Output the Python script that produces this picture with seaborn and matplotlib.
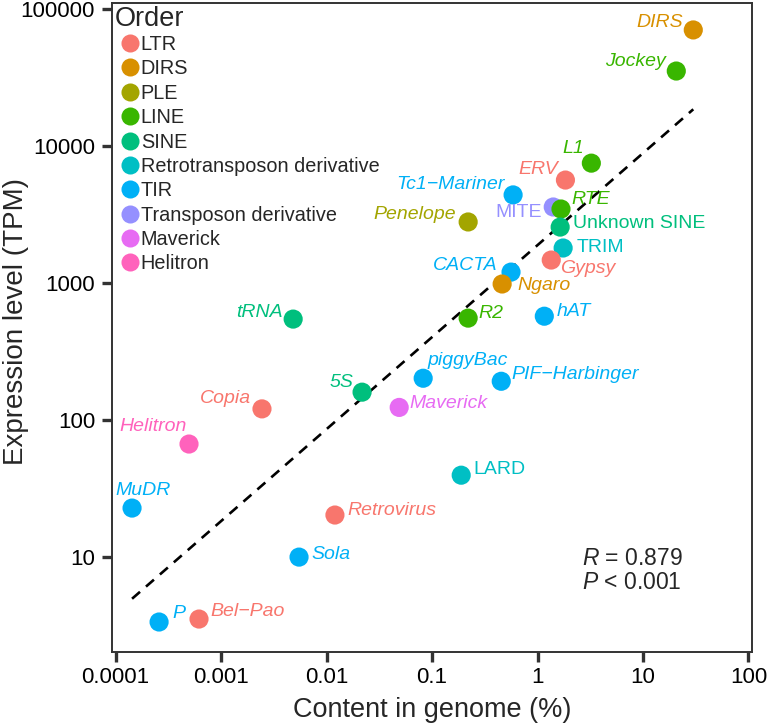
import numpy as np
import pandas as pd
import matplotlib
matplotlib.use("Agg")
import matplotlib.pyplot as plt
import seaborn as sns

# ---------------- data ----------------
names = ["DIRS", "Jockey", "L1", "ERV", "Tc1\u2212Mariner", "MITE", "RTE", "Penelope",
         "Unknown SINE", "TRIM", "Gypsy", "CACTA", "Ngaro", "R2", "hAT", "piggyBac",
         "PIF\u2212Harbinger", "Maverick", "LARD", "tRNA", "5S", "Copia", "Helitron",
         "MuDR", "Retrovirus", "Sola", "P", "Bel\u2212Pao"]
orders = ["DIRS", "LINE", "LINE", "LTR", "TIR", "Transposon derivative", "LINE", "PLE",
          "SINE", "Retrotransposon derivative", "LTR", "TIR", "DIRS", "LINE", "TIR", "TIR",
          "TIR", "Maverick", "Retrotransposon derivative", "SINE", "SINE", "LTR", "Helitron",
          "TIR", "LTR", "TIR", "TIR", "LTR"]
content = [30.0, 20.7, 3.24, 1.84, 0.587, 1.41, 1.67, 0.220,
           1.64, 1.75, 1.35, 0.561, 0.462, 0.220, 1.16, 0.0824,
           0.453, 0.0488, 0.189, 0.00482, 0.0217, 0.00244, 0.000496,
           0.000143, 0.0120, 0.00548, 0.000258, 0.000617]
expression = [70700, 35400, 7510, 5650, 4400, 3590, 3470, 2790,
              2560, 1800, 1470, 1200, 982, 553, 571, 201,
              191, 123, 39.3, 544, 159, 120, 66.4,
              22.6, 20.1, 9.9, 3.32, 3.49]
order_levels = ["LTR", "DIRS", "PLE", "LINE", "SINE", "Retrotransposon derivative",
                "TIR", "Transposon derivative", "Maverick", "Helitron"]
upright_labels = ["MITE", "Unknown SINE", "TRIM", "LARD"]
x_ticks = [0.0001, 0.001, 0.01, 0.1, 1, 10, 100]
x_tick_labels = ["0.0001", "0.001", "0.01", "0.1", "1", "10", "100"]
y_ticks = [10, 100, 1000, 10000, 100000]
y_tick_labels = ["10", "100", "1000", "10000", "100000"]
stat_r = "0.879"
stat_p = "0.001"

# ---------------- style ----------------
palette = ["#F8766D", "#D89000", "#A3A500", "#39B600", "#00BF7D",
           "#00BFC4", "#00B0F6", "#9590FF", "#E76BF3", "#FF62BC"]
# label placement (pixel offsets from point centre, horizontal alignment)
label_pos = {
    "DIRS": (-10, 7, "right"), "Jockey": (-10, 10, "right"), "L1": (-7, 15, "right"),
    "ERV": (-7, 11, "right"), "Tc1\u2212Mariner": (-8, 10, "right"), "MITE": (-11, -6, "right"),
    "RTE": (10, 10, "left"), "Penelope": (-12, 7, "right"), "Unknown SINE": (13, 4, "left"),
    "TRIM": (13, 1, "left"), "Gypsy": (9, -8, "left"), "CACTA": (-13, 7, "right"),
    "Ngaro": (15, -1, "left"), "R2": (10, 5, "left"), "hAT": (12, 5, "left"),
    "piggyBac": (4, 18, "left"), "PIF\u2212Harbinger": (10, 7, "left"),
    "Maverick": (10, 4, "left"), "LARD": (12, 6, "left"), "tRNA": (-10, 7, "right"),
    "5S": (-9, 10, "right"), "Copia": (-11, 10, "right"), "Helitron": (-2, 18, "right"),
    "MuDR": (-17, 18, "left"), "Retrovirus": (12, 5, "left"), "Sola": (12, 3, "left"),
    "P": (13, 9, "left"), "Bel\u2212Pao": (11, 8, "left"),
}

sns.set_theme(style="white")
plt.rcParams["font.family"] = ["Liberation Sans", "DejaVu Sans"]
plt.rcParams["mathtext.fontset"] = "custom"
plt.rcParams["mathtext.rm"] = "Liberation Sans"
plt.rcParams["mathtext.it"] = "Liberation Sans:italic"

df = pd.DataFrame({"name": names, "Order": orders, "content": content, "expression": expression})

fig = plt.figure(figsize=(7.67, 7.23), dpi=100)
ax = fig.add_axes([0.146, 0.0986, 0.835, 0.8968])

sns.scatterplot(data=df, x="content", y="expression", hue="Order", hue_order=order_levels,
                palette=palette, s=190, linewidth=0, ax=ax, legend=True, zorder=3)
ax.set_xscale("log")
ax.set_yscale("log")

# regression line in log-log space over the data range
lx = np.log10(df["content"].values)
ly = np.log10(df["expression"].values)
slope, intercept = np.polyfit(lx, ly, 1)
xs = np.array([lx.min(), lx.max()])
ax.plot(10 ** xs, 10 ** (intercept + slope * xs), ls=(0, (4, 3)), color="black", lw=1.9, zorder=2)

# point labels
cmap = dict(zip(order_levels, palette))
for n, o, xv, yv in zip(names, orders, content, expression):
    dx, dy, ha = label_pos[n]
    ax.annotate(n, (xv, yv), xytext=(dx * 0.72, dy * 0.72), textcoords="offset points",
                ha=ha, va="center", fontsize=14, color=cmap[o],
                style="normal" if n in upright_labels else "italic", zorder=4)

ax.set_xlim(10 ** -4.035, 10 ** 2.038)
ax.set_ylim(10 ** 0.304, 10 ** 5.044)
ax.set_xticks(x_ticks)
ax.set_xticklabels(x_tick_labels)
ax.set_yticks(y_ticks)
ax.set_yticklabels(y_tick_labels)
ax.minorticks_off()
ax.tick_params(axis="both", which="major", direction="out", length=7.2, width=2.4,
               color="#333333", labelsize=16, labelcolor="black",
               bottom=True, left=True)
ax.tick_params(axis="x", pad=4)
ax.tick_params(axis="y", pad=5)
for sp in ax.spines.values():
    sp.set_color("#333333")
    sp.set_linewidth(1.4)
ax.set_xlabel("Content in genome (%)", fontsize=19.5, labelpad=6)
ax.set_ylabel("Expression level (TPM)", fontsize=20)
ax.yaxis.set_label_coords(-0.130, 0.51)

ax.text(0.734, 0.144, "$\\it{R}$ = " + stat_r, transform=ax.transAxes, fontsize=16.5,
        va="center", ha="left")
ax.text(0.734, 0.1075, "$\\it{P}$ < " + stat_p, transform=ax.transAxes, fontsize=16.5,
        va="center", ha="left")

handles, labels = ax.get_legend_handles_labels()
for h in handles:
    try:
        h.set_markersize(13)
    except Exception:
        pass
leg = ax.legend(handles, labels, title="Order", loc="upper left", frameon=False,
                fontsize=14.3, title_fontsize=19.5, handletextpad=-0.2, labelspacing=0.27,
                borderaxespad=0.0, borderpad=0.15, handlelength=1.5, markerscale=1.0)
leg._legend_box.align = "left"
leg._legend_box.sep = 2

fig.savefig("out.png", dpi=100)
